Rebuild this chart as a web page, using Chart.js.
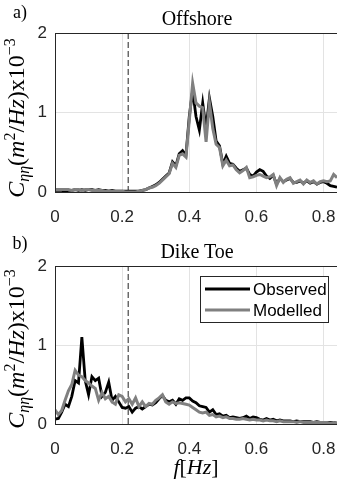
<!DOCTYPE html>
<html>
<head>
<meta charset="utf-8">
<script src="https://cdn.jsdelivr.net/npm/chart.js@4"></script>
<style>
  body { margin: 0; background: #fff; }
  #wrap { position: relative; width: 337px; height: 482px; overflow: hidden; }
  canvas { position: absolute; left: 0; }
  .txt { position: absolute; font-family: "Liberation Serif", serif; color: #000; white-space: nowrap; transform: translate(-50%, -50%); }
  .ylab { font-size: 24px; transform: translate(-50%, -50%) rotate(-90deg); }
  .ylab sub, .ylab sup { font-size: 16px; }
  i { font-style: italic; }
</style>
</head>
<body>
<div id="wrap">
  <canvas id="topChart" width="337" height="236" style="top:0"></canvas>
  <canvas id="bottomChart" width="337" height="246" style="top:236px"></canvas>

  <div class="txt" style="left:20px; top:12px; font-size:18px;">a)</div>
  <div class="txt" style="left:197px; top:18px; font-size:20px;">Offshore</div>
  <div class="txt ylab" style="left:17px; top:118px;"><i>C</i><sub><i>ηη</i></sub>(<i>m</i><sup>2</sup>/<i>Hz</i>)x10<sup>−3</sup></div>

  <div class="txt" style="left:20px; top:243px; font-size:18px;">b)</div>
  <div class="txt" style="left:197px; top:251px; font-size:20px;">Dike Toe</div>
  <div class="txt ylab" style="left:17px; top:349px;"><i>C</i><sub><i>ηη</i></sub>(<i>m</i><sup>2</sup>/<i>Hz</i>)x10<sup>−3</sup></div>
  <div class="txt" style="left:196px; top:467px; font-size:22px;"><i>f</i>[<i>Hz</i>]</div>
</div>
<script>
// frequency axis (Hz)
const freq = [
  0.00, 0.01, 0.02, 0.03, 0.04, 0.05, 0.06, 0.07, 0.08, 0.09,
  0.10, 0.11, 0.12, 0.13, 0.14, 0.15, 0.16, 0.17, 0.18, 0.19,
  0.20, 0.21, 0.22, 0.23, 0.24, 0.25, 0.26, 0.27, 0.28, 0.29,
  0.30, 0.31, 0.32, 0.33, 0.34, 0.35, 0.36, 0.37, 0.38, 0.39,
  0.40, 0.41, 0.42, 0.43, 0.44, 0.45, 0.46, 0.47, 0.48, 0.49,
  0.50, 0.51, 0.52, 0.53, 0.54, 0.55, 0.56, 0.57, 0.58, 0.59,
  0.60, 0.61, 0.62, 0.63, 0.64, 0.65, 0.66, 0.67, 0.68, 0.69,
  0.70, 0.71, 0.72, 0.73, 0.74, 0.75, 0.76, 0.77, 0.78, 0.79,
  0.80, 0.81, 0.82, 0.83, 0.84
];

// a) Offshore spectra (x10^-3 m^2/Hz)
const offshoreObserved = [
  0.02, 0.02, 0.02, 0.01, 0.02, 0.02, 0.03, 0.02, 0.03, 0.02,
  0.03, 0.03, 0.02, 0.03, 0.02, 0.02, 0.01, 0.02, 0.01, 0.01,
  0.01, 0.01, 0.01, 0.01, 0.01, 0.01, 0.02, 0.03, 0.05, 0.07,
  0.09, 0.12, 0.16, 0.20, 0.24, 0.38, 0.33, 0.48, 0.52, 0.46,
  0.95, 1.28, 0.95, 0.78, 1.12, 0.80, 1.18, 0.95, 0.64, 0.58,
  0.35, 0.45, 0.36, 0.35, 0.30, 0.26, 0.28, 0.30, 0.22, 0.20,
  0.25, 0.28, 0.26, 0.20, 0.17, 0.21, 0.10, 0.17, 0.13, 0.15,
  0.17, 0.12, 0.12, 0.14, 0.11, 0.14, 0.11, 0.13, 0.10, 0.12,
  0.13, 0.11, 0.08, 0.07, 0.06
];
const offshoreModelled = [
  0.03, 0.03, 0.03, 0.03, 0.03, 0.02, 0.03, 0.03, 0.02, 0.03,
  0.03, 0.02, 0.02, 0.02, 0.02, 0.01, 0.01, 0.01, 0.01, 0.01,
  0.01, 0.00, 0.00, 0.00, 0.00, 0.01, 0.02, 0.03, 0.05, 0.06,
  0.08, 0.11, 0.15, 0.19, 0.23, 0.36, 0.31, 0.46, 0.48, 0.44,
  0.90, 1.37, 1.12, 1.08, 1.06, 0.63, 1.12, 0.80, 0.60, 0.56,
  0.33, 0.40, 0.33, 0.34, 0.28, 0.24, 0.27, 0.31, 0.18, 0.19,
  0.21, 0.22, 0.20, 0.18, 0.19, 0.22, 0.08, 0.18, 0.12, 0.16,
  0.18, 0.11, 0.13, 0.15, 0.10, 0.15, 0.12, 0.14, 0.10, 0.13,
  0.14, 0.13, 0.14, 0.22, 0.18
];

// b) Dike toe spectra
const dikeObserved = [
  0.06, 0.07, 0.15, 0.25, 0.22, 0.35, 0.55, 0.52, 1.10, 0.55,
  0.37, 0.60, 0.55, 0.58, 0.35, 0.40, 0.53, 0.30, 0.35, 0.28,
  0.21, 0.20, 0.22, 0.15, 0.20, 0.22, 0.19, 0.22, 0.25, 0.24,
  0.27, 0.32, 0.36, 0.30, 0.28, 0.30, 0.25, 0.32, 0.30, 0.33,
  0.33, 0.29, 0.27, 0.23, 0.22, 0.21, 0.15, 0.18, 0.12, 0.13,
  0.10, 0.11, 0.08, 0.09, 0.08, 0.07, 0.08, 0.10, 0.07, 0.09,
  0.08, 0.06, 0.05, 0.07, 0.05, 0.06, 0.04, 0.05, 0.04, 0.04,
  0.04, 0.03, 0.04, 0.03, 0.03, 0.03, 0.03, 0.02, 0.03, 0.02,
  0.02, 0.02, 0.02, 0.02, 0.01
];
const dikeModelled = [
  0.18, 0.12, 0.17, 0.30, 0.42, 0.50, 0.68, 0.62, 0.60, 0.55,
  0.52, 0.48, 0.45, 0.30, 0.40, 0.32, 0.35, 0.28, 0.25, 0.37,
  0.35, 0.28, 0.32, 0.25, 0.33, 0.22, 0.28, 0.22, 0.26, 0.25,
  0.30, 0.33, 0.37, 0.28, 0.25, 0.28, 0.26, 0.27, 0.26, 0.25,
  0.24, 0.21, 0.18, 0.15, 0.14, 0.15, 0.11, 0.12, 0.09, 0.10,
  0.08, 0.09, 0.07, 0.07, 0.06, 0.06, 0.07, 0.06, 0.05, 0.06,
  0.05, 0.05, 0.04, 0.05, 0.04, 0.04, 0.03, 0.04, 0.03, 0.03,
  0.03, 0.03, 0.02, 0.03, 0.02, 0.02, 0.02, 0.02, 0.02, 0.02,
  0.02, 0.02, 0.01, 0.02, 0.01
];

const cutoffFreq = 0.218;
const xTicks = [0, 0.2, 0.4, 0.6, 0.8];
const yTicks = [0, 1, 2];
const seriesNames = ["Observed", "Modelled"];

const tickFont = { family: "Liberation Sans", size: 17 };

// box around the axes (MATLAB style)
const boxPlugin = {
  id: "box",
  afterDraw(chart) {
    const { ctx, chartArea } = chart;
    ctx.save();
    ctx.strokeStyle = "#262626";
    ctx.lineWidth = 1;
    ctx.strokeRect(chartArea.left + 0.5, chartArea.top + 0.5,
      chartArea.right - chartArea.left, chartArea.bottom - chartArea.top);
    ctx.restore();
  },
};

// legend box drawn inside the axes
const boxLegend = {
  id: "boxLegend",
  afterDraw(chart, args, opts) {
    if (!opts.show) return;
    const { ctx, chartArea } = chart;
    const x0 = chartArea.left + 145, y0 = chartArea.top + 10;
    const w = 128, h = 46;
    ctx.save();
    ctx.fillStyle = "#fff";
    ctx.fillRect(x0, y0, w, h);
    ctx.strokeStyle = "#262626";
    ctx.lineWidth = 1;
    ctx.strokeRect(x0 + 0.5, y0 + 0.5, w, h);
    ctx.font = "17px 'Liberation Sans'";
    ctx.textBaseline = "middle";
    seriesNames.forEach((name, i) => {
      const ds = chart.data.datasets.find((d) => d.label === name);
      const yy = y0 + 13 + i * 21;
      ctx.strokeStyle = ds.borderColor;
      ctx.lineWidth = 3;
      ctx.beginPath();
      ctx.moveTo(x0 + 5, yy);
      ctx.lineTo(x0 + 50, yy);
      ctx.stroke();
      ctx.fillStyle = "#000";
      ctx.fillText(name, x0 + 53, yy + 1);
    });
    ctx.restore();
  },
};

function makePanel(canvasId, observed, modelled, padTop, xAxisHeight, showLegend) {
  const obsPts = freq.map((f, i) => ({ x: f, y: observed[i] }));
  const modPts = freq.map((f, i) => ({ x: f, y: modelled[i] }));
  const cutPts = [{ x: cutoffFreq, y: 0 }, { x: cutoffFreq, y: 2 }];

  new Chart(document.getElementById(canvasId).getContext("2d"), {
    type: "line",
    data: {
      datasets: [
        {
          label: "Modelled",
          data: modPts,
          borderColor: "#808080",
          borderWidth: 3,
          pointRadius: 0,
          tension: 0,
          order: 1,
        },
        {
          label: "Observed",
          data: obsPts,
          borderColor: "#000000",
          borderWidth: 2.8,
          pointRadius: 0,
          tension: 0,
          order: 2,
        },
        {
          label: "cutoff",
          data: cutPts,
          borderColor: "#222222",
          borderWidth: 1,
          borderDash: [6, 3],
          pointRadius: 0,
          order: 3,
        },
      ],
    },
    options: {
      responsive: false,
      animation: false,
      events: [],
      layout: { padding: { top: padTop, left: 0, right: 0, bottom: 0 } },
      scales: {
        x: {
          type: "linear",
          min: 0,
          max: 0.84,
          afterFit: (scale) => {
            scale.height = xAxisHeight;
            scale.paddingLeft = 0;
            scale.paddingRight = 0;
          },
          afterBuildTicks: (scale) => { scale.ticks = xTicks.map((v) => ({ value: v })); },
          ticks: {
            font: tickFont,
            color: "#262626",
            padding: 15,
            maxRotation: 0,
            callback: (v) => (v === 0 ? "0" : v.toFixed(1)),
          },
          grid: { color: "#e3e3e3", drawTicks: false },
          border: { display: false },
        },
        y: {
          min: 0,
          max: 2,
          afterFit: (scale) => {
            scale.width = 55;
            scale.paddingTop = 0;
            scale.paddingBottom = 0;
          },
          afterBuildTicks: (scale) => { scale.ticks = yTicks.map((v) => ({ value: v })); },
          ticks: { font: tickFont, color: "#262626", padding: 8 },
          grid: { color: "#e3e3e3", drawTicks: false },
          border: { display: false },
        },
      },
      plugins: {
        legend: { display: false },
        tooltip: { enabled: false },
        boxLegend: { show: showLegend },
      },
    },
    plugins: [boxPlugin, boxLegend],
  });
}

makePanel("topChart", offshoreObserved, offshoreModelled, 33, 44, false);
makePanel("bottomChart", dikeObserved, dikeModelled, 30, 58, true);
</script>
</body>
</html>
